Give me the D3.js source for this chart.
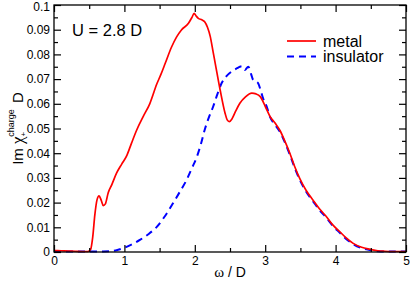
<!DOCTYPE html>
<html><head><meta charset="utf-8">
<script src="https://cdn.jsdelivr.net/npm/d3@7"></script>
<style>body{margin:0;background:#fff}svg{display:block}text{font-family:"Liberation Sans",Arial,sans-serif;fill:#000}</style>
</head><body>
<script>
const metalX = [0,0.1,0.2,0.3,0.4,0.48,0.52,0.55,0.58,0.61,0.64,0.67,0.70,0.73,0.77,0.82,0.89,0.96,1.03,1.1,1.175,1.27,1.36,1.46,1.52,1.58,1.67,1.74,1.81,1.91,1.96,1.99,2.02,2.05,2.1,2.14,2.18,2.22,2.26,2.29,2.36,2.43,2.46,2.49,2.53,2.58,2.64,2.72,2.81,2.87,2.93,3.0,3.07,3.14,3.21,3.27,3.35,3.42,3.49,3.58,3.68,3.77,3.87,3.96,4.06,4.15,4.25,4.37,4.49,4.6,4.7,4.8,5.0];
const metalY = [0.0006,0.0005,0.0004,0.0003,0.0002,0.0002,0.001,0.006,0.015,0.021,0.0227,0.021,0.0188,0.0195,0.024,0.0272,0.032,0.0355,0.0388,0.044,0.0494,0.055,0.060,0.068,0.072,0.0764,0.083,0.087,0.0899,0.0926,0.095,0.0966,0.0955,0.0946,0.094,0.0932,0.091,0.0872,0.081,0.0764,0.0656,0.0562,0.0535,0.0528,0.054,0.057,0.0602,0.0628,0.0643,0.0640,0.0629,0.059,0.0548,0.0522,0.0492,0.0455,0.040,0.0345,0.0298,0.025,0.021,0.0175,0.0143,0.011,0.0082,0.0057,0.0035,0.0019,0.0011,0.0005,0.0003,0.0002,0.0002];
const insX = [0,0.5,0.7,0.8,0.9,0.98,1.1,1.22,1.34,1.46,1.58,1.69,1.79,1.88,1.96,2.03,2.09,2.14,2.2,2.26,2.32,2.38,2.45,2.52,2.6,2.64,2.67,2.71,2.76,2.8,2.83,2.87,2.90,2.94,2.97,3.02,3.07,3.14,3.21,3.27,3.35,3.42,3.49,3.58,3.68,3.77,3.87,3.96,4.06,4.15,4.25,4.37,4.49,4.6,4.7,5.0];
const insY = [0.0002,0.0002,0.0002,0.0003,0.0008,0.0015,0.003,0.0049,0.0072,0.0102,0.0147,0.0197,0.0245,0.029,0.034,0.0386,0.044,0.0494,0.0545,0.0588,0.0638,0.0683,0.0712,0.073,0.0744,0.075,0.0752,0.0737,0.075,0.072,0.0696,0.069,0.0683,0.065,0.0622,0.059,0.0546,0.0515,0.0486,0.045,0.0394,0.034,0.0293,0.0245,0.0205,0.017,0.0138,0.0106,0.0078,0.0053,0.0032,0.0016,0.0008,0.0003,0.0002,0.0002];
const xTicks = [0,1,2,3,4,5];
const xMinor = [0.5,1.5,2.5,3.5,4.5];
const yTicks = [0,0.01,0.02,0.03,0.04,0.05,0.06,0.07,0.08,0.09,0.1];
const yMinor = [0.005,0.015,0.025,0.035,0.045,0.055,0.065,0.075,0.085,0.095];
const yTickLabels = ["0","0.01","0.02","0.03","0.04","0.05","0.06","0.07","0.08","0.09","0.1"];
const seriesNames = ["metal","insulator"];
const seriesColors = ["#ff0000","#0000ff"];

const W=411,H=281,m={l:54,r:5,t:5,b:29};
const svg=d3.select("body").append("svg").attr("width",W).attr("height",H);
const x=d3.scaleLinear().domain([0,5]).range([m.l,W-m.r]);
const y=d3.scaleLinear().domain([0,0.1]).range([H-m.b,m.t]);

const line=d3.line().x(d=>x(d[0])).y(d=>y(d[1])).curve(d3.curveMonotoneX);
const g=svg.append("g");
g.append("path").datum(insX.map((v,i)=>[v,insY[i]])).attr("d",line).attr("fill","none")
 .attr("stroke",seriesColors[1]).attr("stroke-width",2).attr("stroke-dasharray","7,5");
g.append("path").datum(metalX.map((v,i)=>[v,metalY[i]])).attr("d",line).attr("fill","none")
 .attr("stroke",seriesColors[0]).attr("stroke-width",1.7);

function ax(gen,tr,vals,size,fmt){
  const a=svg.append("g").attr("transform",tr).call(gen.tickValues(vals).tickSize(size).tickPadding(4).tickFormat(fmt));
  a.select(".domain").remove();
  a.selectAll("line").attr("stroke","#000").attr("stroke-width",1.2);
  a.selectAll("text").style("font-size","12px").attr("fill","#000");
  return a;
}
const h=H-m.t-m.b, w=W-m.l-m.r;
ax(d3.axisBottom(x),`translate(0,${H-m.b})`,xTicks,-7,d=>d);
ax(d3.axisBottom(x),`translate(0,${H-m.b})`,xMinor,-4,()=>"");
ax(d3.axisTop(x),`translate(0,${m.t})`,xTicks,-7,()=>"");
ax(d3.axisTop(x),`translate(0,${m.t})`,xMinor,-4,()=>"");
const la=ax(d3.axisLeft(y),`translate(${m.l},0)`,yTicks,-7,(d,i)=>yTickLabels[i]);
la.selectAll("text").attr("x",-4);
la.selectAll("text").filter((d,i)=>i===yTicks.length-1).attr("y",1.5);
ax(d3.axisLeft(y),`translate(${m.l},0)`,yMinor,-4,()=>"");
ax(d3.axisRight(y),`translate(${W-m.r},0)`,yTicks,-7,()=>"");
ax(d3.axisRight(y),`translate(${W-m.r},0)`,yMinor,-4,()=>"");

svg.append("rect").attr("x",m.l).attr("y",m.t).attr("width",w).attr("height",h)
 .attr("fill","none").attr("stroke","#000").attr("stroke-width",1.3);

svg.append("text").attr("x",72).attr("y",36).style("font-size","16.5px").text("U = 2.8 D");

const lg=svg.append("g");
seriesNames.forEach((n,i)=>{
  const yy=41+i*15.5;
  lg.append("line").attr("x1",287).attr("x2",316).attr("y1",yy).attr("y2",yy)
    .attr("stroke",seriesColors[i]).attr("stroke-width",i?2:1.7).attr("stroke-dasharray",i?"7,5":null);
  lg.append("text").attr("x",323).attr("y",yy+5.5).style("font-size","16px").text(n);
});

const xl=svg.append("text").attr("x",(m.l+W-m.r)/2).attr("y",277).attr("text-anchor","middle").style("font-size","14px");
xl.append("tspan").style("font-family","'Liberation Serif',serif").style("font-size","15px").text("ω");
xl.append("tspan").text(" / D");

const yl=svg.append("text").attr("transform",`translate(23,${(m.t+H-m.b)/2}) rotate(-90)`).attr("text-anchor","middle").style("font-size","15px");
yl.append("tspan").text("Im ");
yl.append("tspan").style("font-family","'Liberation Serif',serif").style("font-size","17px").text("χ");
yl.append("tspan").style("font-size","8px").attr("dy",3).text("+");
yl.append("tspan").style("font-size","9px").attr("dx",-5).attr("dy",-12).text("charge");
yl.append("tspan").attr("dy",9).attr("dx",2).text(" D");
</script>
</body></html>
